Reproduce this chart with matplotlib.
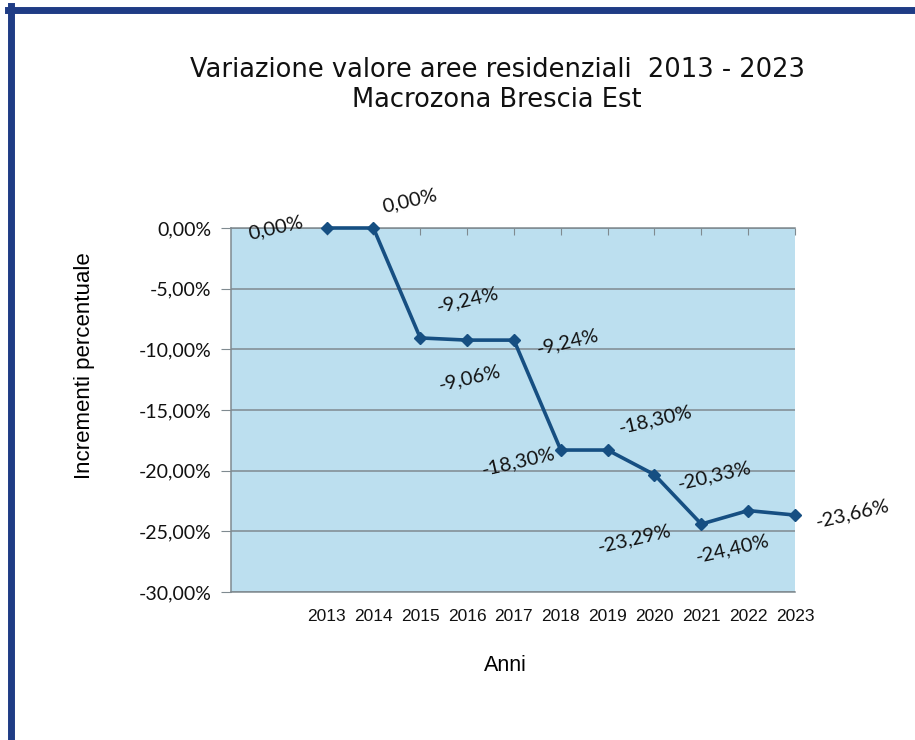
# Variazione valore aree residenziali - Macrozona Brescia Est

import matplotlib.pyplot as plt
from matplotlib.lines import Line2D
from matplotlib.ticker import FuncFormatter

anni = [2013, 2014, 2015, 2016, 2017, 2018, 2019, 2020, 2021, 2022, 2023]
variazione = [0.00, 0.00, -9.06, -9.24, -9.24, -18.30, -18.30, -20.33, -24.40, -23.29, -23.66]

# label offsets (pixels) from each point, as placed in the original
offsets = [(-51, 0), (36, 27), (49, -40), (1, 40), (54, -2), (-42, -12),
           (48, 30), (60, -1), (31, -25), (-114, -28), (58, 1)]

def pct(v):
    return ('%.2f%%' % v).replace('.', ',')

fig = plt.figure(figsize=(9.15, 7.4), dpi=100)
ax = fig.add_axes([231/915, 1 - 592/740, (795 - 231)/915, (592 - 228)/740])
ax.set_facecolor('#bcdfef')

ax.plot(anni, variazione, color='#164f82', lw=2.6, marker='D', ms=6.5, zorder=3, clip_on=False)

for x, y, (dx, dy) in zip(anni, variazione, offsets):
    ax.annotate(pct(y), (x, y), xytext=(dx, dy), textcoords='offset pixels',
                ha='center', va='center', rotation=13, fontsize=14.5,
                family='Lato', color='#111111', zorder=4)

ax.set_xlim(2010.96, 2023)
ax.set_ylim(-30, 0)
ax.set_yticks(range(-30, 1, 5))
ax.yaxis.set_major_formatter(FuncFormatter(lambda v, p: pct(v)))
ax.set_xticks(anni)
ax.grid(axis='y', color='#7f8a90', lw=1.1)
ax.set_axisbelow(True)

for s in ['left', 'bottom', 'top']:
    ax.spines[s].set_color('#7f8a90')
    ax.spines[s].set_linewidth(1.1)
ax.spines['right'].set_visible(False)

ax.tick_params(axis='x', bottom=False, top=True, direction='in', length=5,
               color='#7f8a90', labelbottom=True, pad=12)
ax.tick_params(axis='y', direction='out', length=7, color='#7f8a90', pad=7)
for lbl in ax.get_xticklabels():
    lbl.set_family('Liberation Sans')
    lbl.set_fontsize(12.5)
    lbl.set_color('#111111')
for lbl in ax.get_yticklabels():
    lbl.set_family('Lato')
    lbl.set_fontsize(14)
    lbl.set_color('#111111')

ax.set_xlabel('Anni', family='Liberation Sans', fontsize=15.5)
ax.xaxis.set_label_coords((505 - 231)/564, -(655 - 592)/364)
ax.set_ylabel('Incrementi percentuale', family='Liberation Sans', fontsize=16)
ax.yaxis.set_label_coords(-(231 - 95)/564, (592 - 366)/364)

fig.text(497/915, 1 - 70/740, 'Variazione valore aree residenziali  2013 - 2023',
         ha='center', va='center', family='DejaVu Sans', fontsize=18.5, color='#111111')
fig.text(497/915, 1 - 100/740, 'Macrozona Brescia Est',
         ha='center', va='center', family='DejaVu Sans', fontsize=18.5, color='#111111')

# dark blue frame on left and top
fig.add_artist(Line2D([11/915, 11/915], [0, 1 - 6/740], color='#1f3c85', lw=5))
fig.add_artist(Line2D([8/915, 1], [1 - 10/740, 1 - 10/740], color='#1f3c85', lw=5))

fig.savefig('out.png', dpi=100)
